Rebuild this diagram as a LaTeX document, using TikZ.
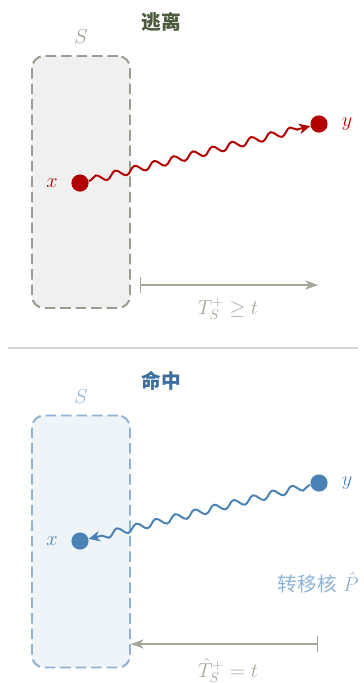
\documentclass[tikz,border=0pt]{standalone}
\usepackage{fontspec}
\newfontfamily\cjk{Noto Sans CJK SC}
\usetikzlibrary{arrows.meta,decorations.pathmorphing}
\definecolor{escred}{HTML}{B20000}
\definecolor{hitblue}{HTML}{4A82B6}
\definecolor{escgray}{HTML}{9C9D90}
\definecolor{hitlight}{HTML}{8DB2D6}
\definecolor{spangray}{HTML}{A3A899}
\definecolor{escdark}{HTML}{4D5A3E}
\definecolor{hitdark}{HTML}{3D6E9E}

\begin{document}
\begin{tikzpicture}[
  region/.style={rectangle, draw=#1, dashed, dash pattern=on 7.5pt off 3.5pt, line width=1.4pt, rounded corners=0.3cm, minimum width=2.45cm, minimum height=6.3cm, inner sep=0pt},
  dot/.style={circle, fill=#1, inner sep=0pt, minimum size=0.43cm},
  wave/.style={#1, line width=1.4pt, decorate, decoration={snake, amplitude=0.09cm, segment length=0.5cm, pre length=0.5mm, post length=2.5mm}, -{Stealth[length=2.8mm, width=2.6mm, inset=0.8mm]}},
  span/.style={spangray, line width=0.8pt, {Bar[width=4mm]}-{Stealth[length=3.2mm, width=2.3mm, inset=0.9mm]}},
  lbl/.style={font=\fontsize{14}{16}\selectfont, inner sep=1pt},
  title/.style={font=\cjk\bfseries\fontsize{14}{16}\selectfont, text=#1}
]
  \useasboundingbox (0,0) rectangle (9.1,-17.075);

  % escape
  \node[title=escdark] (t1) at (4.025,-0.55) {逃离};
  \node[region=escgray, fill=black!6] (S1) at (2.025,-4.55) {};
  \node[lbl, text=escgray] (s1) at (2.025,-0.925) {$S$};
  \node[dot=escred] (x1) at (2.0,-4.575) {};
  \node[dot=escred] (y1) at (7.975,-3.1) {};
  \node[lbl, text=escred] (xl1) at (1.3,-4.575) {$x$};
  \node[lbl, text=escred] (yl1) at (8.675,-3.1) {$y$};
  \draw[wave=escred] (x1) -- (y1);
  \coordinate (a1) at (3.5,-7.125);
  \coordinate (b1) at (7.95,-7.125);
  \draw[span] (a1) -- (b1);
  \node[lbl, text=spangray] (T1) at (5.7,-7.725) {$T_S^+ \geq t$};

  \draw[black!16, line width=0.8pt] (0.2,-8.7) -- (8.95,-8.7);

  % hit
  \node[title=hitdark] (t2) at (4.025,-9.525) {命中};
  \node[region=hitlight, fill=hitblue!9] (S2) at (2.025,-13.5375) {};
  \node[lbl, text=hitlight] (s2) at (2.025,-9.925) {$S$};
  \node[dot=hitblue] (x2) at (2.0,-13.525) {};
  \node[dot=hitblue] (y2) at (7.975,-12.075) {};
  \node[lbl, text=hitblue] (xl2) at (1.3,-13.525) {$x$};
  \node[lbl, text=hitblue] (yl2) at (8.675,-12.075) {$y$};
  \draw[wave=hitblue] (y2) -- (x2);
  \node[lbl, text=hitlight, anchor=west] (P2) at (6.9,-14.575) {{\cjk 转移核}~$\hat{P}$};
  \coordinate (a2) at (3.27,-16.1);
  \coordinate (b2) at (7.95,-16.1);
  \draw[span] (b2) -- (a2);
  \node[lbl, text=spangray] (T2) at (5.7,-16.75) {$\hat{T}_S^+ = t$};
\end{tikzpicture}
\end{document}
